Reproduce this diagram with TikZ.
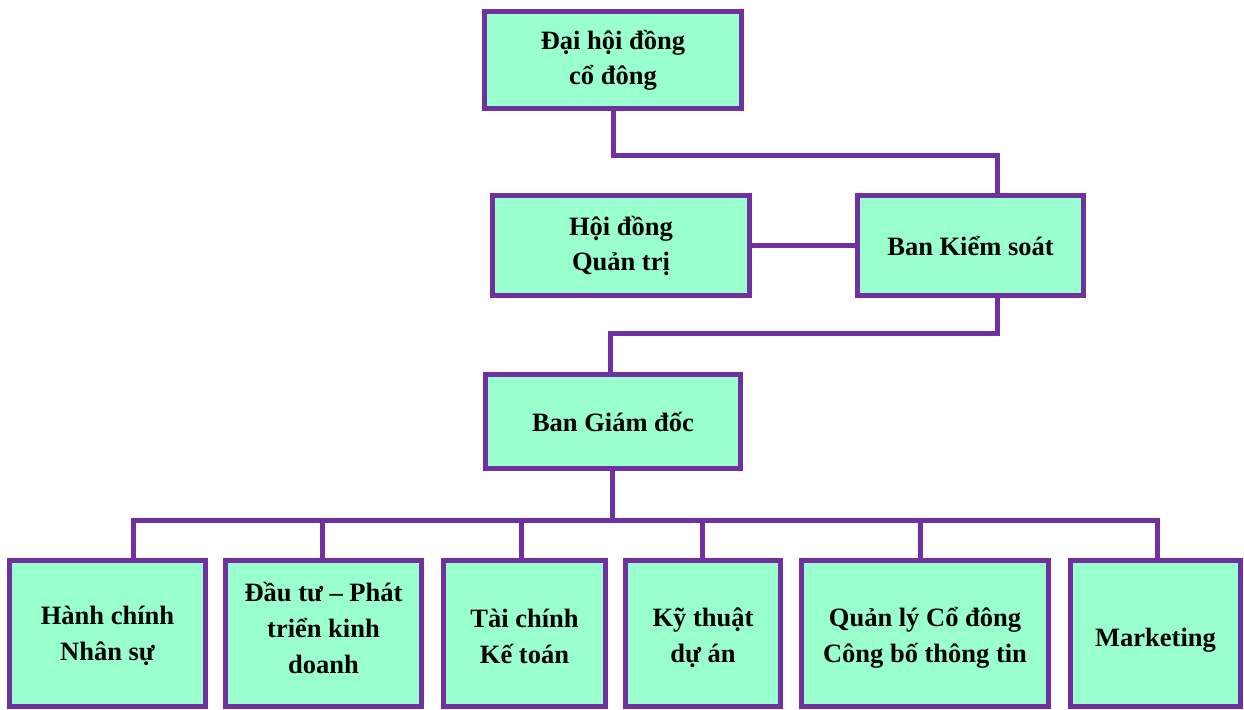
\documentclass[tikz,border=0pt]{standalone}
\usepackage{fontspec}
\setmainfont{Liberation Serif}
\definecolor{boxfill}{HTML}{99FFCC}
\definecolor{boxline}{HTML}{7030A0}
\begin{document}
\begin{tikzpicture}[x=1pt,y=-1pt,
  orgbox/.style={draw=boxline,fill=boxfill,line width=5pt,rectangle,inner sep=0pt,
    align=center,font=\bfseries\fontsize{26.5}{35}\selectfont},
  boxtext/.style={inner sep=0pt,align=center,font=\bfseries\fontsize{26.5}{36}\selectfont},
  link/.style={draw=boxline,line width=5pt,line join=miter}]
\useasboundingbox (0,0) rectangle (1244,709);
\node[orgbox,minimum width=257pt,minimum height=97pt] (dh) at (613,60) {Đại hội đồng\\cổ đông};
\node[orgbox,minimum width=257pt,minimum height=100pt] (hdqt) at (621,245.5) {Hội đồng\\Quản trị};
\node[orgbox,minimum width=226pt,minimum height=100pt] (bks) at (970.5,245.5) {Ban Kiểm soát};
\node[orgbox,minimum width=255pt,minimum height=94pt] (bgd) at (613,421.5) {Ban Giám đốc};
\node[orgbox,minimum width=196pt,minimum height=146pt] (hc) at (107.5,633.5) {};
\node[orgbox,minimum width=196pt,minimum height=146pt] (dt) at (323.5,633.5) {};
\node[orgbox,minimum width=162pt,minimum height=146pt] (tc) at (524.5,633.5) {};
\node[orgbox,minimum width=155pt,minimum height=146pt] (kt) at (703,633.5) {};
\node[orgbox,minimum width=247pt,minimum height=146pt] (ql) at (925,633.5) {};
\node[orgbox,minimum width=170pt,minimum height=146pt] (mk) at (1155.5,633.5) {};
\node[boxtext] (hct) at ([yshift=-2.5pt]hc.center) {Hành chính\\Nhân sự};
\node[boxtext] (dtt) at ([yshift=6pt]dt.center) {Đầu tư – Phát\\triển kinh\\doanh};
\node[boxtext] (tct) at ([yshift=-2.5pt]tc.center) {Tài chính\\Kế toán};
\node[boxtext] (ktt) at ([yshift=-4pt]kt.center) {Kỹ thuật\\dự án};
\node[boxtext] (qlt) at ([yshift=-4.5pt]ql.center) {Quản lý Cổ đông\\Công bố thông tin};
\node[boxtext] (mkt) at ([yshift=-7pt]mk.center) {Marketing};
% connectors
\coordinate (k1) at (613,155);
\coordinate (k2) at (997,155);
\draw[link] (dh.south) -- (k1) -- (k2) -- (k2 |- bks.north);
\draw[link] (hdqt.east) -- (hdqt.east -| bks.west);
\coordinate (k3) at (997,333);
\coordinate (k4) at (610,333);
\draw[link] (k3 |- bks.south) -- (k3) -- (k4) -- (k4 |- bgd.north);
\coordinate (bus) at (612,520);
\coordinate (d1) at (133,520);
\coordinate (d2) at (322,520);
\coordinate (d3) at (521,520);
\coordinate (d4) at (702,520);
\coordinate (d5) at (920,520);
\coordinate (d6) at (1157,520);
\draw[link] (bus |- bgd.south) -- (bus);
\draw[link] (d1 |- hc.north) -- (d1) -- (d6) -- (d6 |- mk.north);
\draw[link] (d2) -- (d2 |- dt.north);
\draw[link] (d3) -- (d3 |- tc.north);
\draw[link] (d4) -- (d4 |- kt.north);
\draw[link] (d5) -- (d5 |- ql.north);
\end{tikzpicture}
\end{document}
